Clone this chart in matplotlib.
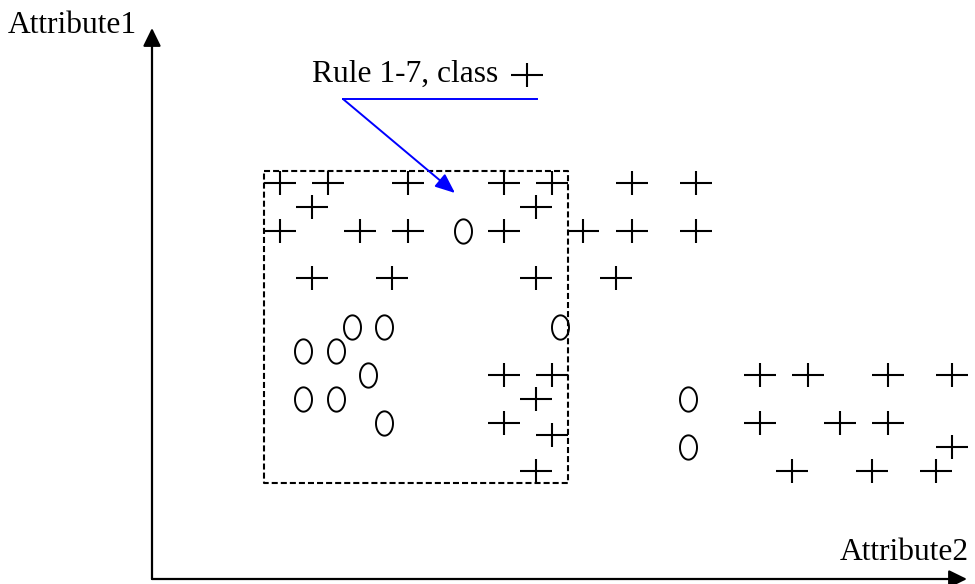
import matplotlib.pyplot as plt
import numpy as np
from matplotlib.path import Path

# Diagram drawn in pixel coordinates of the 975x584 picture
plus_x = [280, 328, 408, 504, 552, 312, 536, 280, 360, 408, 504, 583,
          312, 392, 536, 632, 696, 632, 696, 616,
          504, 552, 536, 504, 552, 536,
          760, 808, 888, 952, 760, 840, 888, 952, 792, 872, 936]
plus_y = [183, 183, 183, 183, 183, 207, 207, 231, 231, 231, 231, 231,
          278, 278, 278, 183, 183, 231, 231, 278,
          375, 375, 399, 423, 435, 471,
          375, 375, 375, 375, 423, 423, 423, 447, 471, 471, 471]

oval_x = [463, 352, 384, 560, 303, 336, 368, 303, 336, 384, 688, 688]
oval_y = [231, 327, 327, 327, 351, 351, 375, 399, 399, 423, 399, 447]

# rule box (left, right, top, bottom)
rule_box = (264, 568, 171, 483)

# non-square plus and oval markers
plus_marker = Path([(-1, 0), (1, 0), (0, -0.72), (0, 0.72)],
                   [Path.MOVETO, Path.LINETO, Path.MOVETO, Path.LINETO])
t = np.linspace(0, 2 * np.pi, 60)
oval_marker = Path(np.column_stack([0.7 * np.cos(t), np.sin(t)]), closed=True)

fig = plt.figure(figsize=(9.75, 5.84), dpi=100)
ax = fig.add_axes([0, 0, 1, 1])
ax.set_xlim(0, 975)
ax.set_ylim(584, 0)
ax.axis("off")

font = dict(family=["Liberation Serif", "DejaVu Serif"], size=22.7)

# axes arrows
axis_style = dict(arrowstyle="-|>,head_length=0.55,head_width=0.27", color="black",
                  lw=1.6, mutation_scale=20, shrinkA=0, shrinkB=0)
ax.annotate("", xy=(152, 28), xytext=(152, 579), arrowprops=axis_style)
ax.annotate("", xy=(967, 579), xytext=(152, 579), arrowprops=axis_style)
ax.text(8, 33, "Attribute1", va="baseline", ha="left", **font)
ax.text(969, 560, "Attribute2", va="baseline", ha="right", **font)

# dashed rule region
l, r, tp, b = rule_box
ax.plot([l, r, r, l, l], [tp, tp, b, b, tp], color="black", lw=1.5,
        linestyle=(0, (2.9, 1.45)))

# points
ax.plot(plus_x, plus_y, linestyle="none", marker=plus_marker, markersize=23.5,
        markeredgewidth=1.5, color="black")
ax.plot(oval_x, oval_y, linestyle="none", marker=oval_marker, markersize=17.5,
        markeredgewidth=1.4, markerfacecolor="none", markeredgecolor="black")

# rule annotation
ax.text(312, 82, "Rule 1-7, class", va="baseline", ha="left", **font)
ax.plot([527], [75], linestyle="none", marker=plus_marker, markersize=23.5,
        markeredgewidth=1.5, color="black")
ax.plot([343, 537], [99, 99], color="blue", lw=1.4)
ax.annotate("", xy=(455, 193), xytext=(343, 99),
            arrowprops=dict(arrowstyle="-|>,head_length=0.6,head_width=0.25",
                            color="blue", lw=1.4, mutation_scale=20,
                            shrinkA=0, shrinkB=0))

fig.savefig("out.png", dpi=100)
